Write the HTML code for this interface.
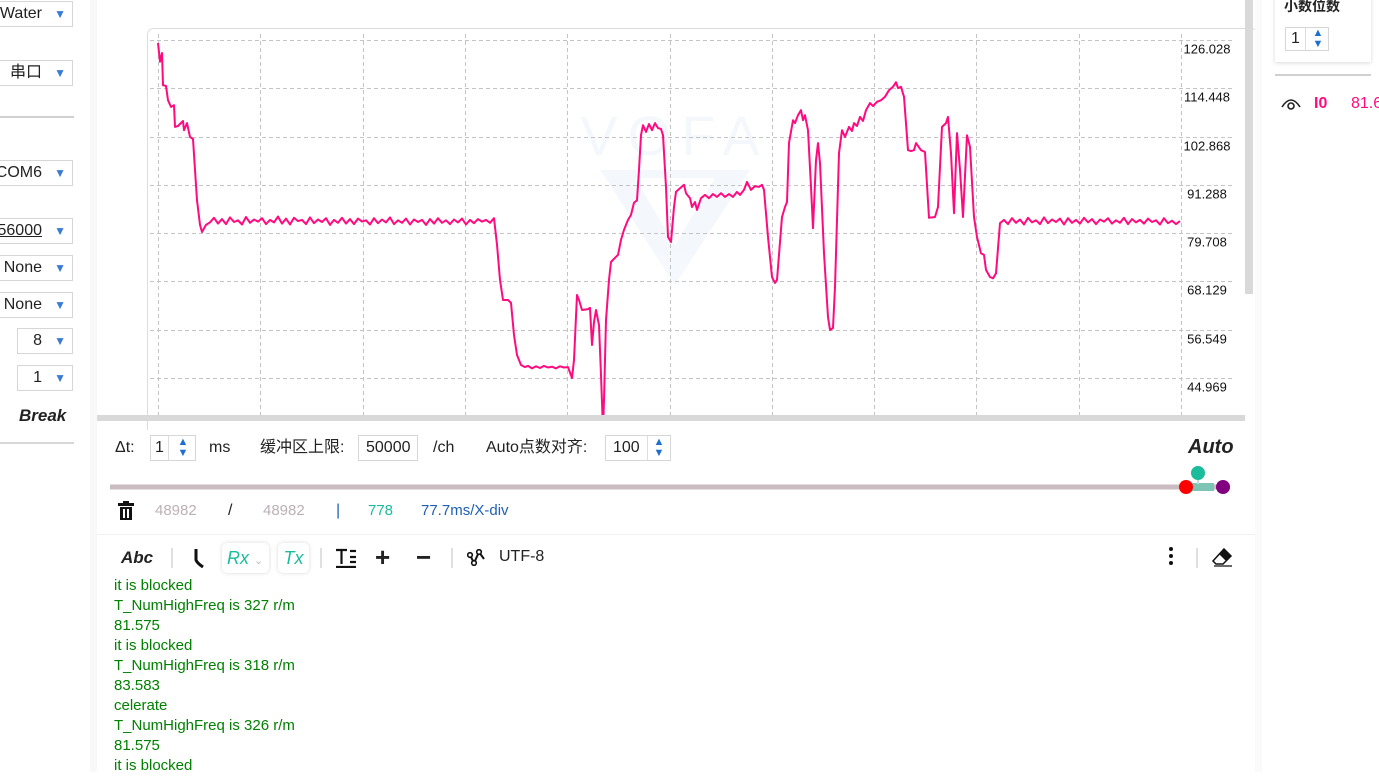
<!DOCTYPE html>
<html><head><meta charset="utf-8">
<style>
*{box-sizing:border-box;margin:0;padding:0}
body{width:1379px;height:772px;overflow:hidden;background:#fff;font-family:"Liberation Sans","Noto Sans CJK SC",sans-serif;position:relative;color:#222}
.abs{position:absolute}
.dd{position:absolute;border:1px solid #d6d6d6;height:26px;font-size:16px;line-height:24px;color:#222;background:#fff}
.dd .t{position:absolute;right:30px;top:0}
.dd .a{position:absolute;right:6px;top:0;color:#3a7bd5;font-size:12px}
.sp{position:absolute;border:1px solid #d6d6d6;height:26px;font-size:16px;line-height:24px;background:#fff}
.arrows{position:absolute;top:1px;width:12px;color:#1e6fd0;font-size:11px;line-height:11px;text-align:center}
.lbl{position:absolute;font-size:16px;line-height:20px;color:#222}
.log{position:absolute;left:114px;font-size:15px;line-height:20px;color:#008000;white-space:nowrap}
</style></head><body>
<!-- left panel -->
<div class="dd" style="left:-2px;top:1px;width:75px"><span class="t">Water</span><span class="a">▼</span></div>
<div class="dd" style="left:-2px;top:60px;width:75px"><span class="t">串口</span><span class="a">▼</span></div>
<div class="abs" style="left:0;top:116px;width:74px;height:2px;background:#d0d0d0"></div>
<div class="dd" style="left:-2px;top:160px;width:75px"><span class="t">COM6</span><span class="a">▼</span></div>
<div class="dd" style="left:-2px;top:218px;width:75px"><span class="t" style="text-decoration:underline">56000</span><span class="a">▼</span></div>
<div class="dd" style="left:-2px;top:255px;width:75px"><span class="t">None</span><span class="a">▼</span></div>
<div class="dd" style="left:-2px;top:292px;width:75px"><span class="t">None</span><span class="a">▼</span></div>
<div class="dd" style="left:17px;top:328px;width:56px"><span class="t">8</span><span class="a">▼</span></div>
<div class="dd" style="left:17px;top:365px;width:56px"><span class="t">1</span><span class="a">▼</span></div>
<div class="abs" style="left:19px;top:406px;font-size:17px;font-weight:bold;font-style:italic">Break</div>
<div class="abs" style="left:0;top:442px;width:74px;height:2px;background:#d8d8d8"></div>
<div class="abs" style="left:90px;top:0;width:7px;height:772px;background:#f8f8f8"></div>

<!-- chart -->
<svg class="abs" style="left:0;top:0" width="1379" height="430">
  <rect x="147.5" y="28.5" width="1110" height="420" rx="6" fill="#fff" stroke="#dcdcdc"/>
  <g opacity="0.6">
    <text x="675" y="155" text-anchor="middle" font-size="56" fill="#eef4fb" font-family="Liberation Sans" letter-spacing="10">VOFA</text>
    <polygon points="600,170 750,170 675,285" fill="#eef4fb"/>
    <polygon points="635,178 715,178 675,245" fill="#fff"/>
  </g>
  <g id="grid"></g>
  <g id="ylabels"></g>
  <clipPath id="clip"><rect x="148" y="30" width="1097" height="385"/></clipPath>
  <path id="series" d="" fill="none" stroke="#ff0a7f" stroke-width="2" stroke-linejoin="round" clip-path="url(#clip)"/>
  <rect x="97" y="415" width="1148" height="6" fill="#d9d9d9"/>
  <rect x="1245" y="0" width="8" height="294" fill="#d9d9d9"/>
</svg>
<div class="abs" style="left:1255px;top:0;width:7px;height:772px;background:#fafafa"></div>

<!-- settings row -->
<div class="lbl" style="left:115px;top:438px">Δt:</div>
<div class="sp" style="left:150px;top:435px;width:46px"><span style="position:absolute;left:4px">1</span><span style="position:absolute;left:17px;top:0;width:1px;height:24px;background:#ddd"></span><div class="arrows" style="left:26px">▲<br>▼</div></div>
<div class="lbl" style="left:209px;top:438px">ms</div>
<div class="lbl" style="left:260px;top:438px">缓冲区上限:</div>
<div class="sp" style="left:358px;top:435px;width:60px"><span style="position:absolute;left:7px">50000</span></div>
<div class="lbl" style="left:433px;top:438px">/ch</div>
<div class="lbl" style="left:486px;top:438px">Auto点数对齐:</div>
<div class="sp" style="left:605px;top:435px;width:66px"><span style="position:absolute;left:7px">100</span><span style="position:absolute;left:41px;top:0;width:1px;height:24px;background:#ddd"></span><div class="arrows" style="left:47px">▲<br>▼</div></div>
<div class="abs" style="left:1188px;top:436px;font-size:20px;font-weight:bold;font-style:italic">Auto</div>

<!-- range slider -->
<svg class="abs" style="left:0;top:460px" width="1379" height="40">
  <rect x="110" y="24.5" width="1120" height="5" fill="#cbbcc2"/>
  <rect x="1186" y="23" width="28" height="8" fill="#7ec4b4"/>
  <line x1="1198" y1="13" x2="1198" y2="24" stroke="#bde2d8" stroke-width="2"/>
  <circle cx="1198" cy="13" r="7" fill="#1abc9c"/>
  <circle cx="1186" cy="27" r="7" fill="#ff0000"/>
  <circle cx="1223" cy="27" r="7" fill="#800080"/>
</svg>

<!-- stats row -->
<svg class="abs" style="left:117px;top:501px" width="18" height="20"><rect x="1" y="2" width="16" height="3" fill="#111"/><rect x="6" y="0" width="6" height="3" fill="#111"/><rect x="3" y="6" width="12" height="13" fill="#111"/><rect x="6" y="8" width="2" height="9" fill="#fff"/><rect x="10" y="8" width="2" height="9" fill="#fff"/></svg>
<div class="abs" style="left:155px;top:502px;font-size:15px;color:#bcb0b6">48982</div>
<div class="abs" style="left:228px;top:502px;font-size:16px;color:#222">/</div>
<div class="abs" style="left:263px;top:502px;font-size:15px;color:#bcb0b6">48982</div>
<div class="abs" style="left:336px;top:502px;font-size:16px;color:#1f5fb4">|</div>
<div class="abs" style="left:368px;top:502px;font-size:15px;color:#1abc9c">778</div>
<div class="abs" style="left:421px;top:502px;font-size:15px;color:#1f5fb4">77.7ms/X-div</div>
<div class="abs" style="left:97px;top:534px;width:1158px;height:1px;background:#f0f0f0"></div>

<!-- toolbar -->
<div class="abs" style="left:121px;top:548px;font-size:17px;font-weight:bold;font-style:italic">Abc</div>
<div class="abs" style="left:171px;top:548px;width:2px;height:20px;background:#e0e0e0"></div>
<svg class="abs" style="left:192px;top:548px" width="16" height="20"><path d="M4 1 L4 12 Q5 15 11 19" stroke="#111" stroke-width="3" fill="none"/></svg>
<div class="abs" style="left:222px;top:543px;width:47px;height:30px;border-radius:5px;box-shadow:0 0 4px rgba(0,0,0,.15);background:#fff;font-size:18px;font-style:italic;color:#1abc9c;line-height:30px;padding-left:5px">Rx <span style="color:#bbb;font-style:normal;font-size:11px">⌄</span></div>
<div class="abs" style="left:278px;top:543px;width:31px;height:30px;border-radius:5px;box-shadow:0 0 4px rgba(0,0,0,.15);background:#fff;font-size:18px;font-style:italic;color:#1abc9c;line-height:30px;text-align:center">Tx</div>
<div class="abs" style="left:320px;top:548px;width:2px;height:20px;background:#e0e0e0"></div>
<svg class="abs" style="left:335px;top:548px" width="22" height="20"><path d="M1 2 H12 M6.5 2 V16 M15 3 H21 M15 9 H21 M15 14 H21 M1 19 H21" stroke="#111" stroke-width="2.2" fill="none"/></svg>
<div class="abs" style="left:375px;top:542px;font-size:26px;font-weight:bold">+</div>
<div class="abs" style="left:416px;top:542px;font-size:26px;font-weight:bold">−</div>
<div class="abs" style="left:451px;top:548px;width:2px;height:20px;background:#e0e0e0"></div>
<svg class="abs" style="left:467px;top:549px" width="20" height="17"><path d="M3 6 L7 14 L12 3 L17 10" stroke="#111" stroke-width="2" fill="none"/><circle cx="3" cy="6" r="2.3" fill="#fff" stroke="#111" stroke-width="1.6"/><circle cx="7" cy="14" r="2.3" fill="#fff" stroke="#111" stroke-width="1.6"/><circle cx="12" cy="3" r="2.3" fill="#fff" stroke="#111" stroke-width="1.6"/></svg>
<div class="abs" style="left:499px;top:548px;font-size:16px">UTF-8</div>
<div class="abs" style="left:1169px;top:547px;width:4px;font-size:0">
  <div style="width:4px;height:4px;border-radius:2px;background:#111;margin-bottom:3px"></div><div style="width:4px;height:4px;border-radius:2px;background:#111;margin-bottom:3px"></div><div style="width:4px;height:4px;border-radius:2px;background:#111"></div></div>
<div class="abs" style="left:1196px;top:548px;width:2px;height:20px;background:#e0e0e0"></div>
<svg class="abs" style="left:1211px;top:547px" width="22" height="20"><path d="M13 2 L20 9 L12 17 L5 17 L2 14 Z" fill="#fff" stroke="#111" stroke-width="1.5"/><path d="M13 2 L20 9 L15 14 L8 7 Z" fill="#111"/><path d="M3 19 H21" stroke="#111" stroke-width="1.3"/></svg>

<!-- log -->
<div class="log" style="top:576px">it is blocked</div>
<div class="log" style="top:596px">T_NumHighFreq is 327 r/m</div>
<div class="log" style="top:616px">81.575</div>
<div class="log" style="top:636px">it is blocked</div>
<div class="log" style="top:656px">T_NumHighFreq is 318 r/m</div>
<div class="log" style="top:676px">83.583</div>
<div class="log" style="top:696px">celerate</div>
<div class="log" style="top:716px">T_NumHighFreq is 326 r/m</div>
<div class="log" style="top:736px">81.575</div>
<div class="log" style="top:756px">it is blocked</div>

<!-- right panel -->
<div class="abs" style="left:1275px;top:-10px;width:96px;height:72px;background:#fff;box-shadow:0 1px 4px rgba(0,0,0,.15)"></div>
<div class="abs" style="left:1284px;top:-4px;font-size:14px;font-weight:bold">小数位数</div>
<div class="sp" style="left:1285px;top:27px;width:44px;height:24px;line-height:22px"><span style="position:absolute;left:5px">1</span><span style="position:absolute;left:19px;top:0;width:1px;height:22px;background:#ddd"></span><div class="arrows" style="left:26px;top:0px">▲<br>▼</div></div>
<div class="abs" style="left:1275px;top:74px;width:96px;height:2px;background:#d0d0d0"></div>
<svg class="abs" style="left:1280px;top:95px" width="22" height="16"><path d="M2 12 Q11 -2 20 12" stroke="#222" stroke-width="1.6" fill="none"/><circle cx="11" cy="11" r="3" fill="none" stroke="#222" stroke-width="1.6"/></svg>
<div class="abs" style="left:1314px;top:95px;font-size:16px;font-weight:bold;color:#ff0a7f">I0</div>
<div class="abs" style="left:1351px;top:95px;font-size:16px;color:#ff0a7f">81.6</div>

<script>
const yTicks = [126.028, 114.448, 102.868, 91.288, 79.708, 68.129, 56.549, 44.969];
const xDivisions = [0, 1, 2, 3, 4, 5, 6, 7, 8, 9, 10];
const times = [0,2,4,5,8,10,13,16,17,20,22,25,26,29,32,35,37,39,42,44,48,
52,56,60,64,68,72,76,80,84,88,92,96,100,104,108,112,116,120,124,128,132,136,140,144,148,152,156,160,164,168,172,176,180,184,188,192,196,200,204,208,212,216,220,224,228,232,236,240,244,248,252,256,260,264,268,272,276,280,284,288,292,296,300,304,308,312,316,320,324,328,332,336,
339,342,345,350,353,356,359,363,367,
370,374,378,382,386,390,394,398,402,406,410,
414,416,419,421,424,430,432,434,436,438,441,443,445,446,448,451,453,457,460,463,466,470,473,476,479,481,483,
485,488,491,494,497,500,503,505,508,510,513,516,518,522,526,528,532,534,537,539,543,547,551,555,559,563,567,571,575,579,582,586,589,593,597,601,604,606,610,614,617,619,624,627,629,631,635,637,640,643,645,647,650,653,655,658,660,662,666,670,672,675,677,681,684,687,691,694,696,699,702,705,708,712,715,719,723,727,731,735,738,740,743,746,750,753,756,758,763,767,771,777,780,784,788,790,793,796,799,802,805,809,812,816,819,823,826,828,832,835,838,842,
846,850,854,858,862,866,870,874,878,882,886,890,894,898,902,906,910,914,918,922,926,930,934,938,942,946,950,954,958,962,966,970,974,978,982,986,990,994,998,1002,1006,1010,1014,1018,1022];
const values = [125.3,120.8,122.9,115.2,115.0,111.6,110.0,110.4,105.2,105.4,105.9,106.6,104.4,106.1,102.8,102.3,94.9,87.6,81.7,80.0,81.7,
82.3,83.4,82.0,83.1,81.9,83.5,82.4,82.8,81.8,83.6,82.2,83.0,82.5,83.3,81.9,82.9,82.3,83.7,82.0,83.2,81.8,83.4,82.6,82.9,81.9,83.5,82.1,83.0,82.4,83.3,81.7,82.9,82.2,83.4,82.0,83.1,81.9,83.2,82.5,82.8,81.8,83.3,82.1,83.0,82.3,83.5,81.9,82.8,82.2,83.2,81.8,83.0,82.4,82.9,81.7,83.1,82.0,83.3,82.2,82.8,81.9,83.0,82.3,83.2,81.8,82.9,82.1,83.1,82.5,82.9,82.2,83.3,
77.0,68.5,63.7,63.7,63.0,55.3,50.5,48.1,47.6,
47.9,47.3,47.8,47.4,47.9,47.5,47.7,47.3,47.8,47.5,47.6,
45.0,49.3,64.9,63.7,61.3,61.5,61.8,52.9,58.4,61.3,57.7,45.7,32.5,39.7,58.9,68.5,72.8,73.8,74.5,78.1,80.5,82.9,84.1,87.0,87.6,94.9,103.2,
105.6,104.0,105.9,104.4,106.1,104.9,104.7,103.2,90.8,78.8,77.6,86.0,89.6,90.5,91.3,89.3,88.1,86.0,87.2,85.3,88.1,88.9,88.1,89.1,88.4,89.3,88.4,89.1,88.4,89.6,88.9,90.1,92.0,90.1,91.0,90.8,91.3,90.1,78.8,69.2,67.8,68.5,83.6,86.0,87.2,101.3,106.8,106.1,108.0,109.2,106.8,108.0,104.4,90.8,80.9,97.2,101.3,96.5,74.9,59.6,56.5,57.0,66.8,98.9,104.4,102.8,105.2,104.2,106.1,105.4,107.6,106.6,109.2,110.9,110.2,111.2,111.6,112.4,114.0,114.8,115.9,114.5,114.8,112.4,99.6,99.4,99.6,101.3,99.6,99.2,83.4,83.6,86.0,105.2,106.1,107.6,98.9,84.5,103.7,94.9,83.6,103.2,100.4,83.6,78.8,74.9,74.5,70.9,69.2,68.9,70.1,82.1,
82.9,81.9,83.3,82.2,83.0,81.8,83.4,82.3,82.8,81.9,83.5,82.1,83.0,82.4,83.2,81.8,83.3,82.2,82.9,82.0,83.4,82.3,83.1,81.9,83.0,82.5,83.3,82.0,82.8,82.2,83.4,81.9,83.1,82.3,82.9,82.0,83.2,82.4,82.8,81.8,83.3,82.1,82.7,81.9,82.6];

const tMin = 0, tMax = 1023;
const plotL = 158, plotR = 1181, gridTop = 40, gridStep = 48.3;
const vTop = yTicks[0], vStep = yTicks[0] - yTicks[1];
function xScale(t){ return plotL + (t - tMin) / (tMax - tMin) * (plotR - plotL); }
function yScale(v){ return gridTop + (vTop - v) / vStep * gridStep; }
const NS = "http://www.w3.org/2000/svg";
const grid = document.getElementById('grid');
yTicks.forEach(function(v){
  const y = Math.round(yScale(v)) + 0.5;
  const l = document.createElementNS(NS,'line');
  l.setAttribute('x1',150); l.setAttribute('x2',1233); l.setAttribute('y1',y); l.setAttribute('y2',y);
  l.setAttribute('stroke','#c4c4c4'); l.setAttribute('stroke-dasharray','4 3');
  
  
  grid.appendChild(l);
  const tx = document.createElementNS(NS,'text');
  tx.setAttribute('x',1207); tx.setAttribute('y',y+13); tx.setAttribute('text-anchor','middle');
  tx.setAttribute('font-size','13'); tx.setAttribute('font-family','Liberation Sans, sans-serif'); tx.setAttribute('fill','#111');
  tx.textContent = v.toFixed(3);
  
  
  document.getElementById('ylabels').appendChild(tx);
});
xDivisions.forEach(function(d){
  const x = Math.round(xScale(tMin + d * (tMax - tMin) / (xDivisions.length - 1))) + 0.5;
  const l = document.createElementNS(NS,'line');
  l.setAttribute('x1',x); l.setAttribute('x2',x); l.setAttribute('y1',34); l.setAttribute('y2',420);
  l.setAttribute('stroke','#c4c4c4'); l.setAttribute('stroke-dasharray','4 3');
  
  
  grid.appendChild(l);
});
const n = Math.min(times.length, values.length);
let d = '';
for (let i = 0; i < n; i++) {
  d += (i ? 'L' : 'M') + xScale(times[i]).toFixed(1) + ' ' + yScale(values[i]).toFixed(1);
}
const s = document.getElementById('series');
s.setAttribute('d', d);


</script>
</body></html>
